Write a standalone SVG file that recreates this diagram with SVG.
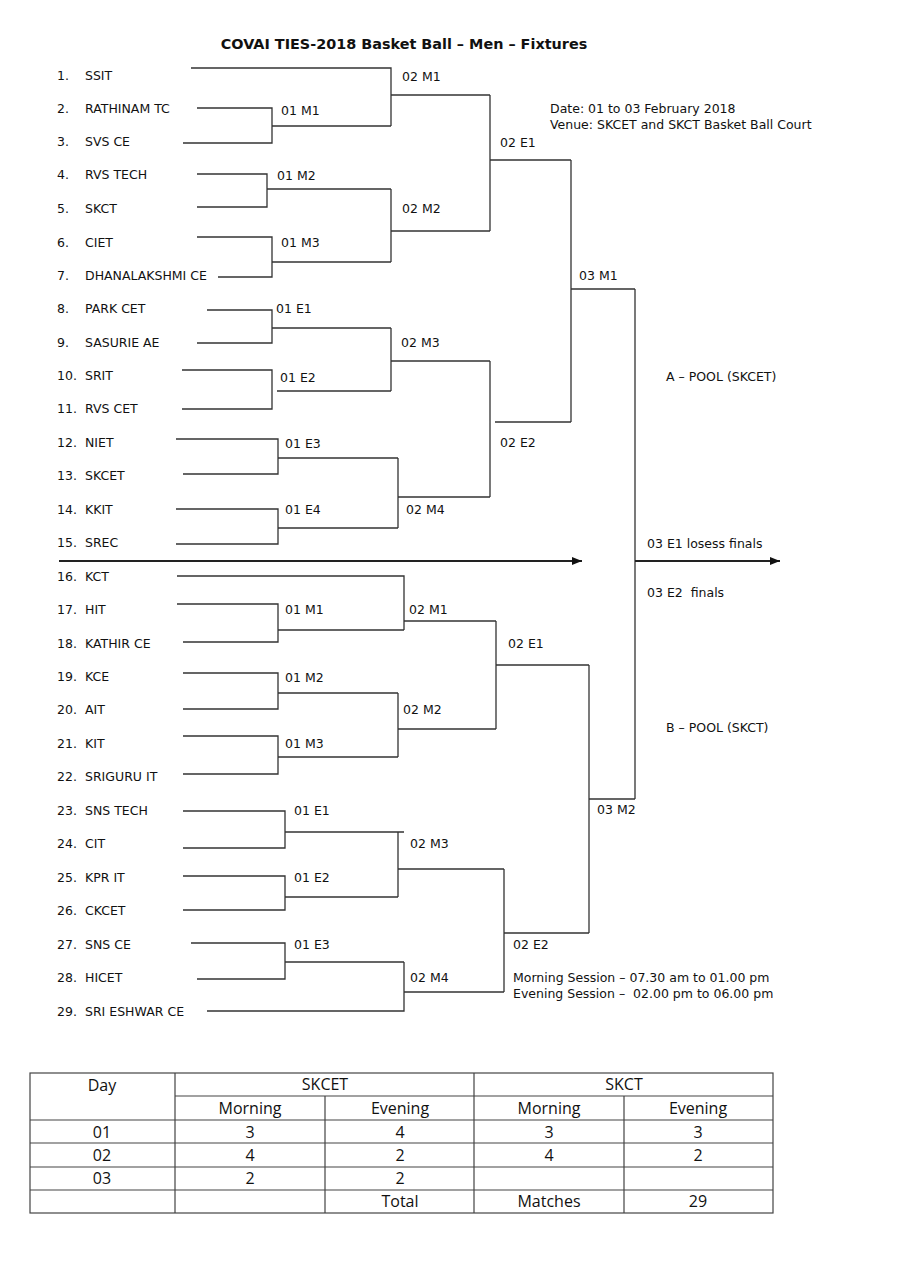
<svg xmlns="http://www.w3.org/2000/svg" width="904" height="1280" viewBox="0 0 904 1280">
<defs>
<style>
.t{font-family:"DejaVu Sans",Verdana,sans-serif;font-size:12.5px;fill:#111;white-space:pre}
.ttl{font-family:"DejaVu Sans",Verdana,sans-serif;font-size:14.4px;font-weight:bold;fill:#111}
.tb{font-family:"Open Sans","Liberation Sans",sans-serif;font-size:16px;fill:#111;text-anchor:middle}
.c{fill:none;stroke:#333;stroke-width:1.3}
.ar{fill:none;stroke:#222;stroke-width:1.8}
.tl{fill:none;stroke:#444;stroke-width:1.2}
</style>
<marker id="ah" markerWidth="10" markerHeight="8" refX="10" refY="4" orient="auto" markerUnits="userSpaceOnUse">
<path d="M0,0 L10,4 L0,8 Z" fill="#111"/>
</marker>
</defs>
<rect width="904" height="1280" fill="#fff"/>
<text class="ttl" x="404" y="49" text-anchor="middle">COVAI TIES-2018 Basket Ball – Men – Fixtures</text>

<g id="info">
<text class="t" x="550" y="113">Date: 01 to 03 February 2018</text>
<text class="t" x="550" y="129">Venue: SKCET and SKCT Basket Ball Court</text>
<text class="t" x="513" y="982">Morning Session – 07.30 am to 01.00 pm</text>
<text class="t" x="513" y="998">Evening Session –  02.00 pm to 06.00 pm</text>
<text class="t" x="666" y="381">A – POOL (SKCET)</text>
<text class="t" x="666" y="732">B – POOL (SKCT)</text>
<text class="t" x="647" y="548">03 E1 losess finals</text>
<text class="t" x="647" y="597">03 E2  finals</text>
</g>

<g id="teams">
<g id="team1"><text class="t" x="57" y="80">1.</text><text class="t" x="85" y="80">SSIT</text></g>
<g id="team2"><text class="t" x="57" y="113">2.</text><text class="t" x="85" y="113">RATHINAM TC</text></g>
<g id="team3"><text class="t" x="57" y="146">3.</text><text class="t" x="85" y="146">SVS CE</text></g>
<g id="team4"><text class="t" x="57" y="179">4.</text><text class="t" x="85" y="179">RVS TECH</text></g>
<g id="team5"><text class="t" x="57" y="213">5.</text><text class="t" x="85" y="213">SKCT</text></g>
<g id="team6"><text class="t" x="57" y="247">6.</text><text class="t" x="85" y="247">CIET</text></g>
<g id="team7"><text class="t" x="57" y="280">7.</text><text class="t" x="85" y="280">DHANALAKSHMI CE</text></g>
<g id="team8"><text class="t" x="57" y="313">8.</text><text class="t" x="85" y="313">PARK CET</text></g>
<g id="team9"><text class="t" x="57" y="347">9.</text><text class="t" x="85" y="347">SASURIE AE</text></g>
<g id="team10"><text class="t" x="57" y="380">10.</text><text class="t" x="85" y="380">SRIT</text></g>
<g id="team11"><text class="t" x="57" y="413">11.</text><text class="t" x="85" y="413">RVS CET</text></g>
<g id="team12"><text class="t" x="57" y="447">12.</text><text class="t" x="85" y="447">NIET</text></g>
<g id="team13"><text class="t" x="57" y="480">13.</text><text class="t" x="85" y="480">SKCET</text></g>
<g id="team14"><text class="t" x="57" y="514">14.</text><text class="t" x="85" y="514">KKIT</text></g>
<g id="team15"><text class="t" x="57" y="547">15.</text><text class="t" x="85" y="547">SREC</text></g>
<g id="team16"><text class="t" x="57" y="581">16.</text><text class="t" x="85" y="581">KCT</text></g>
<g id="team17"><text class="t" x="57" y="614">17.</text><text class="t" x="85" y="614">HIT</text></g>
<g id="team18"><text class="t" x="57" y="648">18.</text><text class="t" x="85" y="648">KATHIR CE</text></g>
<g id="team19"><text class="t" x="57" y="681">19.</text><text class="t" x="85" y="681">KCE</text></g>
<g id="team20"><text class="t" x="57" y="714">20.</text><text class="t" x="85" y="714">AIT</text></g>
<g id="team21"><text class="t" x="57" y="748">21.</text><text class="t" x="85" y="748">KIT</text></g>
<g id="team22"><text class="t" x="57" y="781">22.</text><text class="t" x="85" y="781">SRIGURU IT</text></g>
<g id="team23"><text class="t" x="57" y="815">23.</text><text class="t" x="85" y="815">SNS TECH</text></g>
<g id="team24"><text class="t" x="57" y="848">24.</text><text class="t" x="85" y="848">CIT</text></g>
<g id="team25"><text class="t" x="57" y="882">25.</text><text class="t" x="85" y="882">KPR IT</text></g>
<g id="team26"><text class="t" x="57" y="915">26.</text><text class="t" x="85" y="915">CKCET</text></g>
<g id="team27"><text class="t" x="57" y="949">27.</text><text class="t" x="85" y="949">SNS CE</text></g>
<g id="team28"><text class="t" x="57" y="982">28.</text><text class="t" x="85" y="982">HICET</text></g>
<g id="team29"><text class="t" x="57" y="1016">29.</text><text class="t" x="85" y="1016">SRI ESHWAR CE</text></g>
</g>

<g id="match-labels">
<g id="a-02M1"><text class="t" x="402" y="81">02 M1</text></g>
<g id="a-01M1"><text class="t" x="281" y="115">01 M1</text></g>
<g id="a-01M2"><text class="t" x="277" y="180">01 M2</text></g>
<g id="a-02M2"><text class="t" x="402" y="213">02 M2</text></g>
<g id="a-01M3"><text class="t" x="281" y="247">01 M3</text></g>
<g id="a-02E1"><text class="t" x="500" y="147">02 E1</text></g>
<g id="a-03M1"><text class="t" x="579" y="280">03 M1</text></g>
<g id="a-01E1"><text class="t" x="276" y="313">01 E1</text></g>
<g id="a-02M3"><text class="t" x="401" y="347">02 M3</text></g>
<g id="a-01E2"><text class="t" x="280" y="382">01 E2</text></g>
<g id="a-01E3"><text class="t" x="285" y="448">01 E3</text></g>
<g id="a-02E2"><text class="t" x="500" y="447">02 E2</text></g>
<g id="a-01E4"><text class="t" x="285" y="514">01 E4</text></g>
<g id="a-02M4"><text class="t" x="406" y="514">02 M4</text></g>
<g id="b-01M1"><text class="t" x="285" y="614">01 M1</text></g>
<g id="b-02M1"><text class="t" x="409" y="614">02 M1</text></g>
<g id="b-02E1"><text class="t" x="508" y="648">02 E1</text></g>
<g id="b-01M2"><text class="t" x="285" y="682">01 M2</text></g>
<g id="b-02M2"><text class="t" x="403" y="714">02 M2</text></g>
<g id="b-01M3"><text class="t" x="285" y="748">01 M3</text></g>
<g id="b-03M2"><text class="t" x="597" y="814">03 M2</text></g>
<g id="b-01E1"><text class="t" x="294" y="815">01 E1</text></g>
<g id="b-02M3"><text class="t" x="410" y="848">02 M3</text></g>
<g id="b-01E2"><text class="t" x="294" y="882">01 E2</text></g>
<g id="b-01E3"><text class="t" x="294" y="949">01 E3</text></g>
<g id="b-02E2"><text class="t" x="513" y="949">02 E2</text></g>
<g id="b-02M4"><text class="t" x="410" y="982">02 M4</text></g>
</g>

<g id="connectors">
<path class="c" d="M191,68 H391 V126"/>
<path class="c" d="M197,108 H272 V143 H183 M272,126 H391"/>
<path class="c" d="M391,95 H490"/>
<path class="c" d="M197,174 H267 V207 H197 M267,189 H391"/>
<path class="c" d="M197,237 H272 V277 H218 M272,262 H391"/>
<path class="c" d="M391,189 V262 M391,231 H490"/>
<path class="c" d="M490,95 V231 M490,160 H571"/>
<path class="c" d="M207,310 H272 V343 H197 M272,328 H391"/>
<path class="c" d="M182,370 H272 V409 H182 M277,391 H391"/>
<path class="c" d="M391,328 V391 M391,361 H490"/>
<path class="c" d="M176,439 H278 V474 H183 M278,458 H398"/>
<path class="c" d="M176,509 H278 V544 H176 M278,528 H398"/>
<path class="c" d="M398,458 V528 M398,497 H490"/>
<path class="c" d="M490,361 V497 M495,422 H571"/>
<path class="c" d="M571,160 V422 M571,289 H635"/>
<path class="c" d="M635,289 V799 M589,799 H635"/>
<path class="c" d="M177,576 H404 V630"/>
<path class="c" d="M177,604 H278 V642 H183 M278,630 H404"/>
<path class="c" d="M404,621 H496"/>
<path class="c" d="M183,673 H278 V709 H183 M278,693 H398"/>
<path class="c" d="M183,736 H278 V774 H183 M278,757 H398"/>
<path class="c" d="M398,693 V757 M398,729 H496"/>
<path class="c" d="M496,621 V729 M496,665 H589"/>
<path class="c" d="M183,811 H285 V848 H183 M285,832 H404"/>
<path class="c" d="M183,876 H285 V910 H183 M285,897 H398"/>
<path class="c" d="M398,832 V897 M398,869 H504"/>
<path class="c" d="M191,943 H285 V979 H197 M285,962 H404"/>
<path class="c" d="M207,1011 H404 V962 M404,992 H504"/>
<path class="c" d="M504,869 V992 M504,933 H589"/>
<path class="c" d="M589,665 V933"/>
<path class="ar" d="M59,561 H582" marker-end="url(#ah)"/>
<path class="ar" d="M635,561 H780" marker-end="url(#ah)"/>
</g>

<g id="table">
<rect class="tl" x="30" y="1073" width="743" height="140"/>
<path class="tl" d="M175,1073 V1213 M474,1073 V1213 M325,1096 V1213 M624,1096 V1213 M175,1096 H773 M30,1120 H773 M30,1143 H773 M30,1167 H773 M30,1190 H773"/>
<text class="tb" x="102" y="1091">Day</text>
<text class="tb" x="325" y="1090">SKCET</text>
<text class="tb" x="624" y="1090">SKCT</text>
<text class="tb" x="250" y="1114">Morning</text>
<text class="tb" x="400" y="1114">Evening</text>
<text class="tb" x="549" y="1114">Morning</text>
<text class="tb" x="698" y="1114">Evening</text>
<text class="tb" x="102" y="1138">01</text>
<text class="tb" x="250" y="1138">3</text>
<text class="tb" x="400" y="1138">4</text>
<text class="tb" x="549" y="1138">3</text>
<text class="tb" x="698" y="1138">3</text>
<text class="tb" x="102" y="1161">02</text>
<text class="tb" x="250" y="1161">4</text>
<text class="tb" x="400" y="1161">2</text>
<text class="tb" x="549" y="1161">4</text>
<text class="tb" x="698" y="1161">2</text>
<text class="tb" x="102" y="1184">03</text>
<text class="tb" x="250" y="1184">2</text>
<text class="tb" x="400" y="1184">2</text>
<text class="tb" x="400" y="1207">Total</text>
<text class="tb" x="549" y="1207">Matches</text>
<text class="tb" x="698" y="1207">29</text>
</g>
</svg>
